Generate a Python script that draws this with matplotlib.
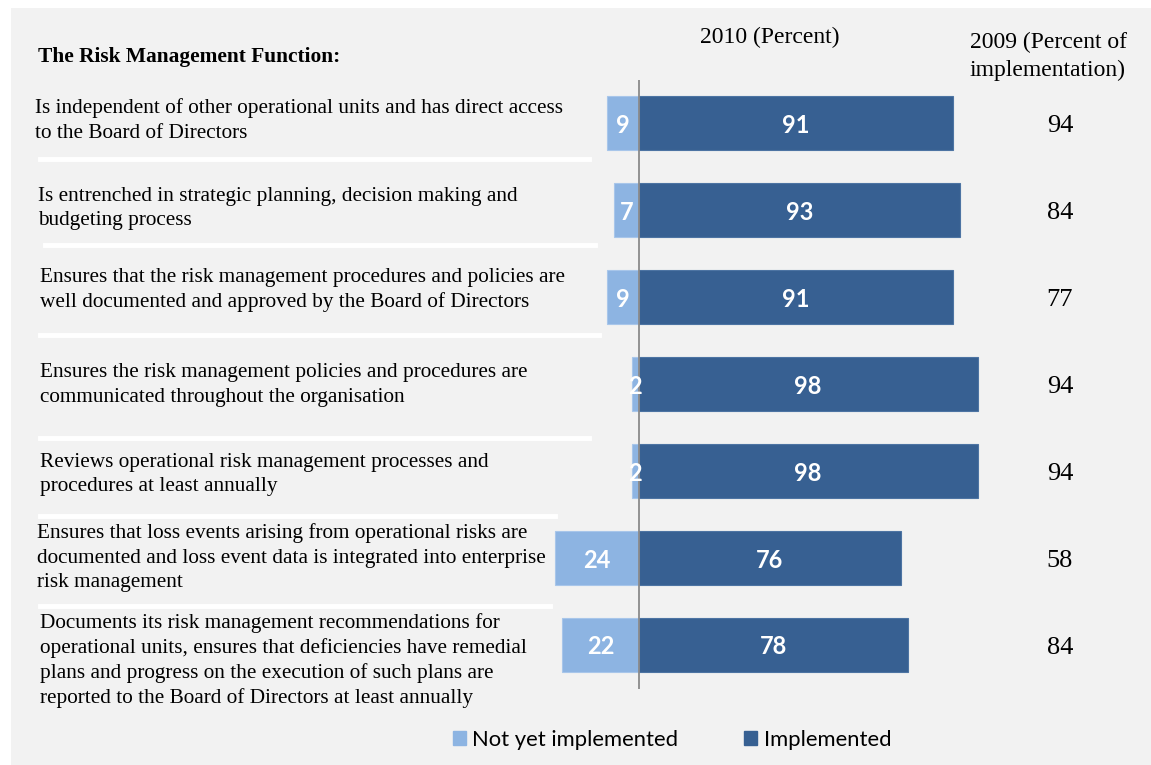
import matplotlib
matplotlib.use("Agg")
import matplotlib.pyplot as plt
from matplotlib.patches import Rectangle
from matplotlib.lines import Line2D

# ---- data -----------------------------------------------------------------
functions = [
    "Is independent of other operational units and has direct access\nto the Board of Directors",
    "Is entrenched in strategic planning, decision making and\nbudgeting process",
    "Ensures that the risk management procedures and policies are\nwell documented and approved by the Board of Directors",
    "Ensures the risk management policies and procedures are\ncommunicated throughout the organisation",
    "Reviews operational risk management processes and\nprocedures at least annually",
    "Ensures that loss events arising from operational risks are\ndocumented and loss event data is integrated into enterprise\nrisk management",
    "Documents its risk management recommendations for\noperational units, ensures that deficiencies have remedial\nplans and progress on the execution of such plans are\nreported to the Board of Directors at least annually",
]
not_implemented_2010 = [9, 7, 9, 2, 2, 24, 22]
implemented_2010 = [91, 93, 91, 98, 98, 76, 78]
implemented_2009 = [94, 84, 77, 94, 94, 58, 84]

# ---- layout ---------------------------------------------------------------
W, H = 1151, 765
LIGHT = "#8db4e2"
DARK = "#376092"
PANEL = "#f2f2f2"
SERIF = "Liberation Serif"
SANS = "Lato"

text_x = [35, 38, 40, 40, 40, 37, 40]          # left edge of each description
text_y = [108, 196, 277, 372, 462, 533, 623]    # first line of each description
line_step = 25
separators = [(159, 40, 589), (245, 45, 595), (335, 40, 599),
              (438, 40, 589), (516, 40, 555), (606, 40, 550)]

zero_px, px_per_unit = 638.5, 3.46
row0_px, row_px = 123, 87
xlim = (-30, 105)
ylim = (6.6, -0.6)


def fx(px):
    return px / W


def fy(py):
    return 1 - py / H


fig = plt.figure(figsize=(W / 100, H / 100), dpi=100)
fig.patch.set_facecolor("white")
fig.patches.append(Rectangle((fx(11), 0), 1 - fx(11), fy(8),
                             transform=fig.transFigure, facecolor=PANEL,
                             edgecolor="none", zorder=-2))

# white separators between the rows of descriptions
for y, x0, x1 in separators:
    fig.lines.append(Line2D([fx(x0), fx(x1)], [fy(y), fy(y)],
                            transform=fig.transFigure, color="white",
                            lw=3.5, zorder=-1))

# bar axes, placed so that 0 % sits on the divider line
left_px = zero_px + xlim[0] * px_per_unit
right_px = zero_px + xlim[1] * px_per_unit
top_px = row0_px + ylim[1] * row_px
bottom_px = row0_px + ylim[0] * row_px
ax = fig.add_axes([fx(left_px), fy(bottom_px),
                   (right_px - left_px) / W, (bottom_px - top_px) / H])
ax.set_zorder(1)
ax.set_xlim(*xlim)
ax.set_ylim(*ylim)
ax.axis("off")
ax.patch.set_alpha(0)

rows = list(range(len(functions)))
neg = [-v for v in not_implemented_2010]
ax.barh(rows, neg, height=0.62, color=LIGHT, edgecolor="#a8c6ea",
        linewidth=0.8, zorder=2)
ax.barh(rows, implemented_2010, height=0.62, color=DARK, edgecolor="#4d74a3",
        linewidth=0.8, zorder=2)
ax.vlines(0, -0.5, len(functions) - 0.5, color="#8a8a8a", lw=1.3, zorder=3)

for r, a, b in zip(rows, not_implemented_2010, implemented_2010):
    ax.text(-a / 2, r, str(a), ha="center", va="center_baseline",
            color="white", fontsize=17, fontweight="bold", family=SANS,
            zorder=4)
    ax.text(b / 2, r, str(b), ha="center", va="center_baseline",
            color="white", fontsize=17, fontweight="bold", family=SANS,
            zorder=4)

# 2009 column
for r, v in zip(rows, implemented_2009):
    fig.text(fx(1060), fy(row0_px + r * row_px + 3), str(v), ha="center",
             va="center", fontsize=19, family=SERIF, color="black")

# descriptions
for label, x, y in zip(functions, text_x, text_y):
    for k, line in enumerate(label.split("\n")):
        fig.text(fx(x), fy(y + k * line_step), line, ha="left", va="center",
                 fontsize=15.3, family=SERIF, color="black")

# headers
fig.text(fx(38), fy(57), "The Risk Management Function:", ha="left",
         va="center", fontsize=15.4, fontweight="bold", family=SERIF)
fig.text(fx(770), fy(37), "2010 (Percent)", ha="center", va="center",
         fontsize=17, family=SERIF)
fig.text(fx(1048), fy(42), "2009 (Percent of", ha="center", va="center",
         fontsize=17, family=SERIF)
fig.text(fx(1048), fy(70), "implementation)", ha="center", va="center",
         fontsize=17, family=SERIF)

# legend
fig.legend(handles=[Rectangle((0, 0), 1, 1, color=LIGHT),
                    Rectangle((0, 0), 1, 1, color=DARK)],
           labels=["Not yet implemented", "Implemented"],
           loc="center", bbox_to_anchor=(fx(672), fy(740)), ncol=2,
           frameon=False, handlelength=0.6, handleheight=0.6,
           handletextpad=0.3, columnspacing=3.0,
           prop={"family": SANS, "size": 15.8})

fig.savefig("out.png", dpi=100, facecolor="white")
